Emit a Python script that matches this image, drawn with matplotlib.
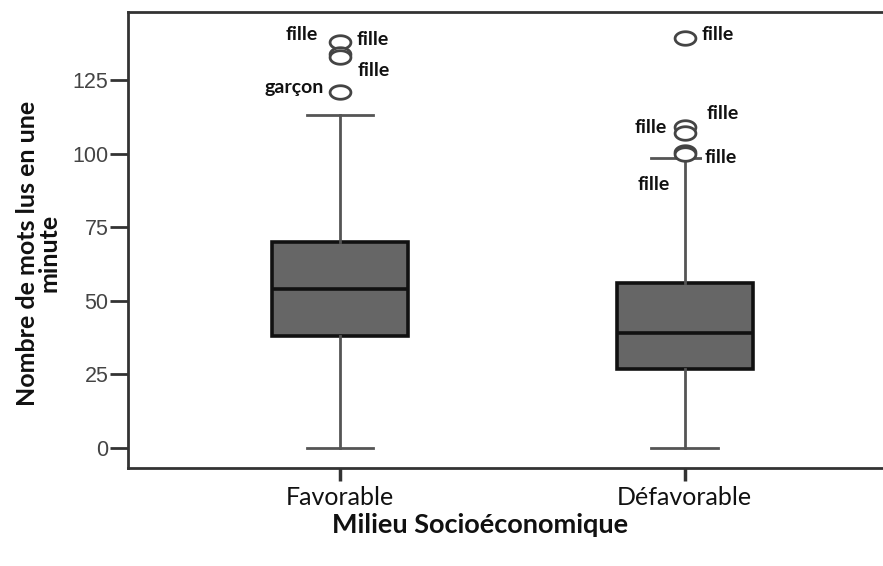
import matplotlib
matplotlib.use('Agg')
import matplotlib.pyplot as plt
import numpy as np
from matplotlib.path import Path

# Data
groups = ['Favorable', 'Défavorable']
q1 = [38, 27]
medians = [54, 39]
q3 = [70, 56]
whisker_low = [0, 0]
whisker_high = [113, 98.5]
fliers = [[138, 134, 133, 121], [139.4, 109, 107, 100.5, 100]]
flier_labels = [['fille', 'fille', 'fille', 'garçon'],
                ['fille', 'fille', 'fille', 'fille', 'fille']]
y_ticks = [0, 25, 50, 75, 100, 125]

# label placement (offset points, alignment) for each outlier
label_offsets = [[(-16, 5, 'right'), (12, 10, 'left'), (13, -10, 'left'), (-12, 3, 'right')],
                 [(12, 2, 'left'), (16, 10, 'left'), (-13, 4, 'right'),
                  (14, -4, 'left'), (-11, -22, 'right')]]

fig = plt.figure(figsize=(8.83, 5.66), dpi=100)
ax = fig.add_axes([0.145, 0.173, 0.855, 0.805])

stats = []
for i, g in enumerate(groups):
    stats.append(dict(label=g, q1=q1[i], med=medians[i], q3=q3[i],
                      whislo=whisker_low[i], whishi=whisker_high[i],
                      fliers=fliers[i]))

t = np.linspace(0, 2 * np.pi, 60)
ellipse = Path(np.column_stack([np.cos(t), 0.65 * np.sin(t)]), closed=True)

ax.bxp(stats, positions=[1, 2], widths=0.394, patch_artist=True,
       boxprops=dict(facecolor='#666666', edgecolor='#111111', linewidth=2.6),
       medianprops=dict(color='#111111', linewidth=2.6),
       whiskerprops=dict(color='#555555', linewidth=2),
       capprops=dict(color='#555555', linewidth=2),
       capwidths=0.194,
       flierprops=dict(marker=ellipse, markersize=15, markerfacecolor='white',
                       markeredgecolor='#444444', markeredgewidth=2))

for i in range(len(groups)):
    for val, lab, (dx, dy, ha) in zip(fliers[i], flier_labels[i], label_offsets[i]):
        bbox = None
        if dx > 0 and dy < 0 and i == 1:
            bbox = dict(facecolor='white', edgecolor='none', pad=1.5)
        ax.annotate(lab, (i + 1, val), xytext=(dx, dy), textcoords='offset points',
                    ha=ha, va='center', fontsize=14, fontweight='bold',
                    family='Lato', color='#111111', bbox=bbox, zorder=5)

ax.set_xlim(0.385, 2.575)
ax.set_ylim(-6.8, 148)
ax.set_yticks(y_ticks)
ax.set_yticklabels([str(v) for v in y_ticks], fontsize=15.5, color='#444444',
                   family='Liberation Sans')
ax.set_xticks([1, 2])
ax.set_xticklabels(groups, fontsize=18, family='Lato', color='#111111')

ax.tick_params(axis='y', length=13, width=2, color='#333333', pad=1)
ax.tick_params(axis='x', length=9, width=2.5, color='#333333', pad=4)

for side in ['left', 'bottom', 'top']:
    ax.spines[side].set_linewidth(2)
    ax.spines[side].set_color('#333333')
ax.spines['right'].set_visible(False)

ax.set_xlabel('Milieu Socioéconomique', fontsize=19.5, fontweight='bold',
              family='Lato', color='#111111')
ax.xaxis.set_label_coords(0.466, -0.098)
ax.set_ylabel('Nombre de mots lus en une\nminute', fontsize=18, fontweight='bold',
              family='Lato', color='#111111', linespacing=0.9)
ax.yaxis.set_label_coords(-0.09, 0.472)

plt.savefig('out.png', dpi=100, facecolor='white')
